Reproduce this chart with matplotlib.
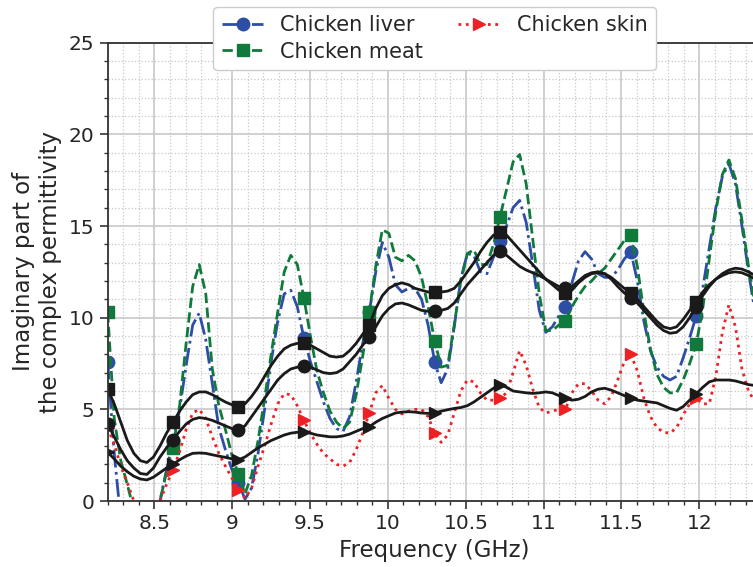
import numpy as np
import matplotlib
matplotlib.use('Agg')
import matplotlib.pyplot as plt
from matplotlib.ticker import MultipleLocator, FuncFormatter

# frequency sweep (GHz), 101 points over X-band
freq = np.linspace(8.2, 12.4, 101)

liver = [7.6, 2.6, -1.0, -3.0, -4.0, -4.5, -4.0, -2.0, 0.0, 1.7,
         3.3, 5.0, 7.4, 9.6, 10.25, 8.8, 6.4, 4.0, 2.8, 1.7,
         1.0, 0.1, 0.7, 2.6, 5.0, 7.6, 9.8, 11.3, 11.5, 10.6,
         8.9, 7.6, 6.5, 5.4, 4.5, 3.95, 3.8, 4.6, 6.5, 8.6,
         10.3, 12.5, 14.1, 13.3, 11.8, 11.4, 11.6, 11.6, 11.0, 9.6,
         7.6, 6.45, 7.2, 9.5, 12.1, 13.5, 13.4, 12.5, 12.4, 13.3,
         14.2, 15.0, 16.0, 16.4, 15.2, 12.9, 10.4, 9.2, 9.5, 10.1,
         10.6, 11.9, 13.1, 13.6, 13.2, 12.4, 12.2, 12.2, 12.6, 13.2,
         13.6, 12.0, 9.8, 8.2, 7.3, 6.8, 6.6, 6.8, 7.8, 8.9,
         10.1, 11.6, 13.8, 16.0, 17.7, 18.4, 17.3, 15.0, 12.5, 10.3,
         8.6]

meat = [10.3, 4.5, 2.2, 0.9, -0.5, -2.0, -3.0, -2.0, 0.0, 1.6,
        2.9, 5.2, 8.6, 11.7, 12.9, 11.3, 7.2, 5.2, 3.9, 2.5,
        1.45, 0.4, 1.4, 3.3, 5.6, 8.0, 10.3, 12.5, 13.4, 12.9,
        11.1, 9.0, 7.1, 5.9, 4.9, 4.3, 3.95, 4.3, 5.8, 7.9,
        10.3, 12.8, 14.8, 14.6, 13.3, 13.1, 13.4, 13.1, 12.2, 10.6,
        8.75, 7.3, 7.4, 9.6, 12.0, 13.5, 13.7, 12.9, 12.9, 14.0,
        15.5, 17.0, 18.5, 18.9, 17.3, 14.3, 11.3, 9.3, 9.3, 9.6,
        9.8, 10.6, 11.2, 11.7, 12.0, 12.4, 12.7, 13.2, 13.7, 14.2,
        14.5, 12.8, 10.3, 8.3, 6.9, 6.2, 5.9, 5.9, 6.6, 7.5,
        8.55, 10.5, 13.2, 15.8, 17.8, 18.6, 17.6, 15.3, 12.8, 10.7,
        9.0]

skin = [4.0, 3.1, 1.9, 1.0, 0.0, -1.0, -1.5, -1.0, 0.0, 0.9,
        1.7, 2.7, 3.9, 4.8, 5.0, 4.5, 3.5, 2.6, 1.9, 1.25,
        0.6, 0.15, 0.7, 1.9, 3.0, 4.2, 5.3, 5.85, 5.8, 5.2,
        4.4, 3.7, 3.1, 2.6, 2.3, 2.0, 1.9, 2.1, 2.8, 3.7,
        4.8, 5.9, 6.3, 5.6, 5.0, 4.75, 4.9, 5.0, 5.0, 4.6,
        3.7, 3.2, 3.6, 4.8, 6.0, 6.6, 6.5, 5.9, 5.5, 5.5,
        5.6, 5.9, 7.0, 8.2, 7.4, 6.1, 5.1, 4.8, 4.9, 5.0,
        5.0, 5.9, 6.4, 6.4, 6.0, 5.5, 5.3, 5.7, 6.6, 7.6,
        8.0, 7.1, 5.6, 4.6, 4.0, 3.75, 3.7, 4.0, 4.7, 5.3,
        5.6, 5.3, 5.3, 6.8, 9.2, 10.7, 9.5, 7.2, 6.0, 5.4,
        5.0]

fit_meat = [6.1, 5.3, 4.3, 3.3, 2.6, 2.2, 2.1, 2.4, 3.0, 3.7,
            4.3, 4.9, 5.4, 5.8, 5.95, 5.95, 5.8, 5.6, 5.4, 5.25,
            5.15, 5.3, 5.7, 6.2, 6.8, 7.4, 7.9, 8.3, 8.5, 8.6,
            8.6, 8.5, 8.3, 8.1, 7.9, 7.85, 7.9, 8.2, 8.6, 9.1,
            9.6, 10.5, 11.2, 11.6, 11.8, 11.9, 11.8, 11.6, 11.5, 11.4,
            11.4, 11.4, 11.45, 11.6, 12.0, 12.5, 13.0, 13.6, 14.1, 14.5,
            14.7, 14.5, 14.1, 13.7, 13.3, 12.9, 12.5, 12.1, 11.8, 11.5,
            11.35, 11.5, 11.9, 12.2, 12.4, 12.45, 12.4, 12.2, 11.9, 11.6,
            11.35, 11.0, 10.6, 10.2, 9.8, 9.5, 9.4, 9.5, 9.9, 10.4,
            10.85, 11.4, 11.8, 12.1, 12.3, 12.45, 12.5, 12.45, 12.3, 12.1,
            11.8]

fit_liver = [4.2, 3.5, 2.8, 2.2, 1.8, 1.5, 1.45, 1.8, 2.4, 2.9,
             3.35, 3.8, 4.2, 4.45, 4.55, 4.5, 4.4, 4.25, 4.1, 3.95,
             3.9, 4.1, 4.6, 5.1, 5.6, 6.1, 6.6, 6.95, 7.2, 7.3,
             7.35, 7.3, 7.15, 7.0, 6.95, 7.0, 7.2, 7.6, 8.0, 8.5,
             8.95, 9.5, 10.1, 10.5, 10.75, 10.8, 10.7, 10.55, 10.4, 10.35,
             10.35, 10.4, 10.5, 10.8, 11.3, 11.8, 12.2, 12.6, 13.0, 13.4,
             13.65, 13.4, 13.1, 12.8, 12.6, 12.45, 12.3, 12.1, 11.9, 11.7,
             11.6, 11.7, 12.0, 12.3, 12.45, 12.5, 12.4, 12.1, 11.7, 11.35,
             11.1, 10.8, 10.4, 10.0, 9.6, 9.3, 9.15, 9.2, 9.5, 10.0,
             10.6, 11.2, 11.7, 12.1, 12.4, 12.6, 12.7, 12.65, 12.5, 12.3,
             12.0]

fit_skin = [2.65, 2.3, 1.9, 1.6, 1.35, 1.2, 1.15, 1.3, 1.55, 1.8,
            2.0, 2.25, 2.45, 2.6, 2.62, 2.6, 2.52, 2.45, 2.38, 2.3,
            2.25, 2.4, 2.65, 2.9, 3.1, 3.3, 3.45, 3.6, 3.7, 3.75,
            3.75, 3.7, 3.6, 3.55, 3.5, 3.5, 3.55, 3.65, 3.8, 3.95,
            4.05, 4.3, 4.5, 4.65, 4.8, 4.85, 4.87, 4.85, 4.8, 4.78,
            4.8, 4.9, 4.98, 5.05, 5.1, 5.2, 5.4, 5.65, 5.9, 6.15,
            6.35, 6.2, 6.0, 5.95, 5.9, 5.87, 5.9, 5.95, 5.9, 5.75,
            5.6, 5.5, 5.55, 5.7, 5.95, 6.1, 6.15, 6.05, 5.9, 5.75,
            5.6, 5.5, 5.45, 5.4, 5.35, 5.2, 5.05, 4.95, 5.15, 5.5,
            5.85, 6.2, 6.5, 6.6, 6.6, 6.6, 6.55, 6.45, 6.35, 6.3,
            6.25]

blue = '#2e4ea6'
green = '#107a3c'
red = '#ee2024'
txt = '#262626'

plt.rcParams['font.family'] = 'DejaVu Sans'

fig = plt.figure(figsize=(7.53, 5.67), dpi=100)
ax = fig.add_axes([0.143, 0.1164, 0.8684, 0.8083])

ax.plot(freq, liver, color=blue, ls='-.', lw=2, marker='o', ms=9,
        markevery=10, label='Chicken liver')
ax.plot(freq, meat, color=green, ls='--', lw=2, marker='s', ms=9,
        markevery=10, label='Chicken meat')
ax.plot(freq, skin, color=red, ls=':', lw=2, marker='>', ms=9,
        markevery=10, label='Chicken skin')

ax.plot(freq, fit_meat, color='#1a1a1a', lw=2, marker='s', ms=9, markevery=10)
ax.plot(freq, fit_liver, color='#1a1a1a', lw=2, marker='o', ms=9, markevery=10)
ax.plot(freq, fit_skin, color='#1a1a1a', lw=2, marker='>', ms=9, markevery=10)

ax.set_xlim(8.2, 12.4)
ax.set_ylim(0, 25)
ax.xaxis.set_major_locator(MultipleLocator(0.5))
ax.xaxis.set_minor_locator(MultipleLocator(0.1))
ax.yaxis.set_major_locator(MultipleLocator(5))
ax.yaxis.set_minor_locator(MultipleLocator(1))
ax.xaxis.set_major_formatter(FuncFormatter(lambda v, p: '%g' % v))

ax.grid(which='major', color='#c8c8c8', lw=1.2, ls='-')
ax.grid(which='minor', color='#c8c8c8', lw=0.9, ls=':')
ax.set_axisbelow(True)

for s in ax.spines.values():
    s.set_color('#333333')
    s.set_linewidth(1.3)

ax.tick_params(which='major', direction='out', length=6, width=1.2,
               colors='#333333', labelcolor=txt, labelsize=14.5)
ax.tick_params(which='minor', direction='out', length=3, width=1,
               colors='#333333')

ax.set_xlabel('Frequency (GHz)', fontsize=16.5, color=txt, labelpad=4)
ax.set_ylabel('Imaginary part of\nthe complex permittivity', fontsize=16.5,
              color=txt, labelpad=5)

leg = ax.legend(loc='upper center', bbox_to_anchor=(0.5, 1.078), ncol=2,
                fontsize=15, frameon=True, borderaxespad=0,
                columnspacing=1.7, handlelength=2.0, handletextpad=0.8,
                labelspacing=0.3)
leg.get_frame().set_edgecolor('#cccccc')
leg.get_frame().set_alpha(1)
for t in leg.get_texts():
    t.set_color(txt)

plt.savefig('out.png', dpi=100)
